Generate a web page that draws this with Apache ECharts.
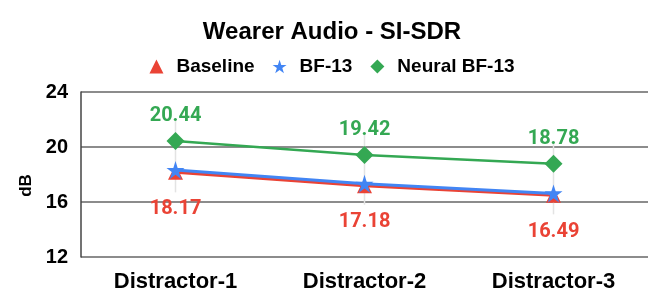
<!DOCTYPE html>
<html>
<head>
<meta charset="utf-8">
<script src="https://cdn.jsdelivr.net/npm/echarts@6/dist/echarts.min.js"></script>
<style>html,body{margin:0;padding:0;background:#fff}#c{width:664px;height:307px}</style>
</head>
<body>
<div id="c"></div>
<script>
const categories = ['Distractor-1', 'Distractor-2', 'Distractor-3'];
const baseline = [18.17, 17.18, 16.49];
const bf13 = [18.32, 17.32, 16.62];
const neural = [20.44, 19.42, 18.78];
const errLow = [16.7, 15.8, 15.1];
const errHigh = [21.9, 20.9, 20.4];
const yTicks = [12, 16, 20, 24];

const STAR = 'path://M50,0 L61.8,35.5 L99,35.5 L69,57.5 L80.5,93 L50,71 L19.5,93 L31,57.5 L1,35.5 L38.2,35.5 Z';
const RED = '#ea4335', BLUE = '#4285f4', GREEN = '#34a853';
const LF = 'Liberation Sans, Arial, sans-serif';

const chart = echarts.init(document.getElementById('c'));
chart.setOption({
  animation: false,
  backgroundColor: '#fff',
  title: {
    text: 'Wearer Audio - SI-SDR', left: 'center', top: 15,
    textStyle: { fontFamily: LF, fontWeight: 'bold', fontSize: 24, color: '#000' }
  },
  legend: {
    left: 'center', top: 52, itemWidth: 14, itemHeight: 14, itemGap: 18,
    textStyle: { fontFamily: LF, fontWeight: 'bold', fontSize: 19, color: '#000', padding: [0, 0, 0, 8] },
    data: [
      { name: 'Baseline', icon: 'triangle' },
      { name: 'BF-13', icon: STAR },
      { name: 'Neural BF-13', icon: 'diamond' }
    ]
  },
  grid: { left: 81, right: 16, top: 92, bottom: 50 },
  xAxis: {
    type: 'category', data: categories,
    axisLine: { show: false }, axisTick: { show: false },
    axisLabel: { fontFamily: LF, fontWeight: 'bold', fontSize: 22, color: '#000', margin: 14 }
  },
  yAxis: {
    type: 'value', min: yTicks[0], max: yTicks[yTicks.length - 1], interval: 4,
    name: 'dB', nameLocation: 'middle', nameGap: 46, nameRotate: 90,
    nameTextStyle: { fontFamily: LF, fontWeight: 'bold', fontSize: 17, color: '#000', padding: [0, 0, 0, -22] },
    axisLine: { show: true, lineStyle: { color: '#444', width: 1.5 } },
    axisTick: { show: false },
    axisLabel: { fontFamily: LF, fontWeight: 'bold', fontSize: 20, color: '#000', margin: 13 },
    splitLine: { lineStyle: { color: '#666', width: 1.5 } }
  },
  series: [
    {
      type: 'custom', name: 'err', silent: true, z: 1,
      data: categories.map((c, i) => [i, errLow[i], errHigh[i]]),
      renderItem: function (params, api) {
        const p1 = api.coord([api.value(0), api.value(1)]);
        const p2 = api.coord([api.value(0), api.value(2)]);
        return { type: 'line', shape: { x1: p1[0], y1: p1[1], x2: p2[0], y2: p2[1] },
          style: { stroke: '#e3e3e3', lineWidth: 1.5 } };
      }
    },
    {
      name: 'Baseline', type: 'line', data: baseline, z: 3,
      symbol: 'triangle', symbolSize: 15, color: RED,
      lineStyle: { width: 3, color: RED }, itemStyle: { color: RED },
      label: { show: true, position: 'bottom', distance: 19, color: RED,
        fontFamily: 'Roboto', fontWeight: 'bold', fontSize: 20, formatter: p => p.value.toFixed(2) }
    },
    {
      name: 'BF-13', type: 'line', data: bf13, z: 4,
      symbol: STAR, symbolSize: 18, color: BLUE,
      lineStyle: { width: 3, color: BLUE }, itemStyle: { color: BLUE }
    },
    {
      name: 'Neural BF-13', type: 'line', data: neural, z: 5,
      symbol: 'diamond', symbolSize: 18, color: GREEN,
      lineStyle: { width: 2.5, color: GREEN }, itemStyle: { color: GREEN },
      label: { show: true, position: 'top', distance: 6, color: GREEN,
        fontFamily: 'Roboto', fontWeight: 'bold', fontSize: 20, formatter: p => p.value.toFixed(2) }
    }
  ]
});
</script>
</body>
</html>
